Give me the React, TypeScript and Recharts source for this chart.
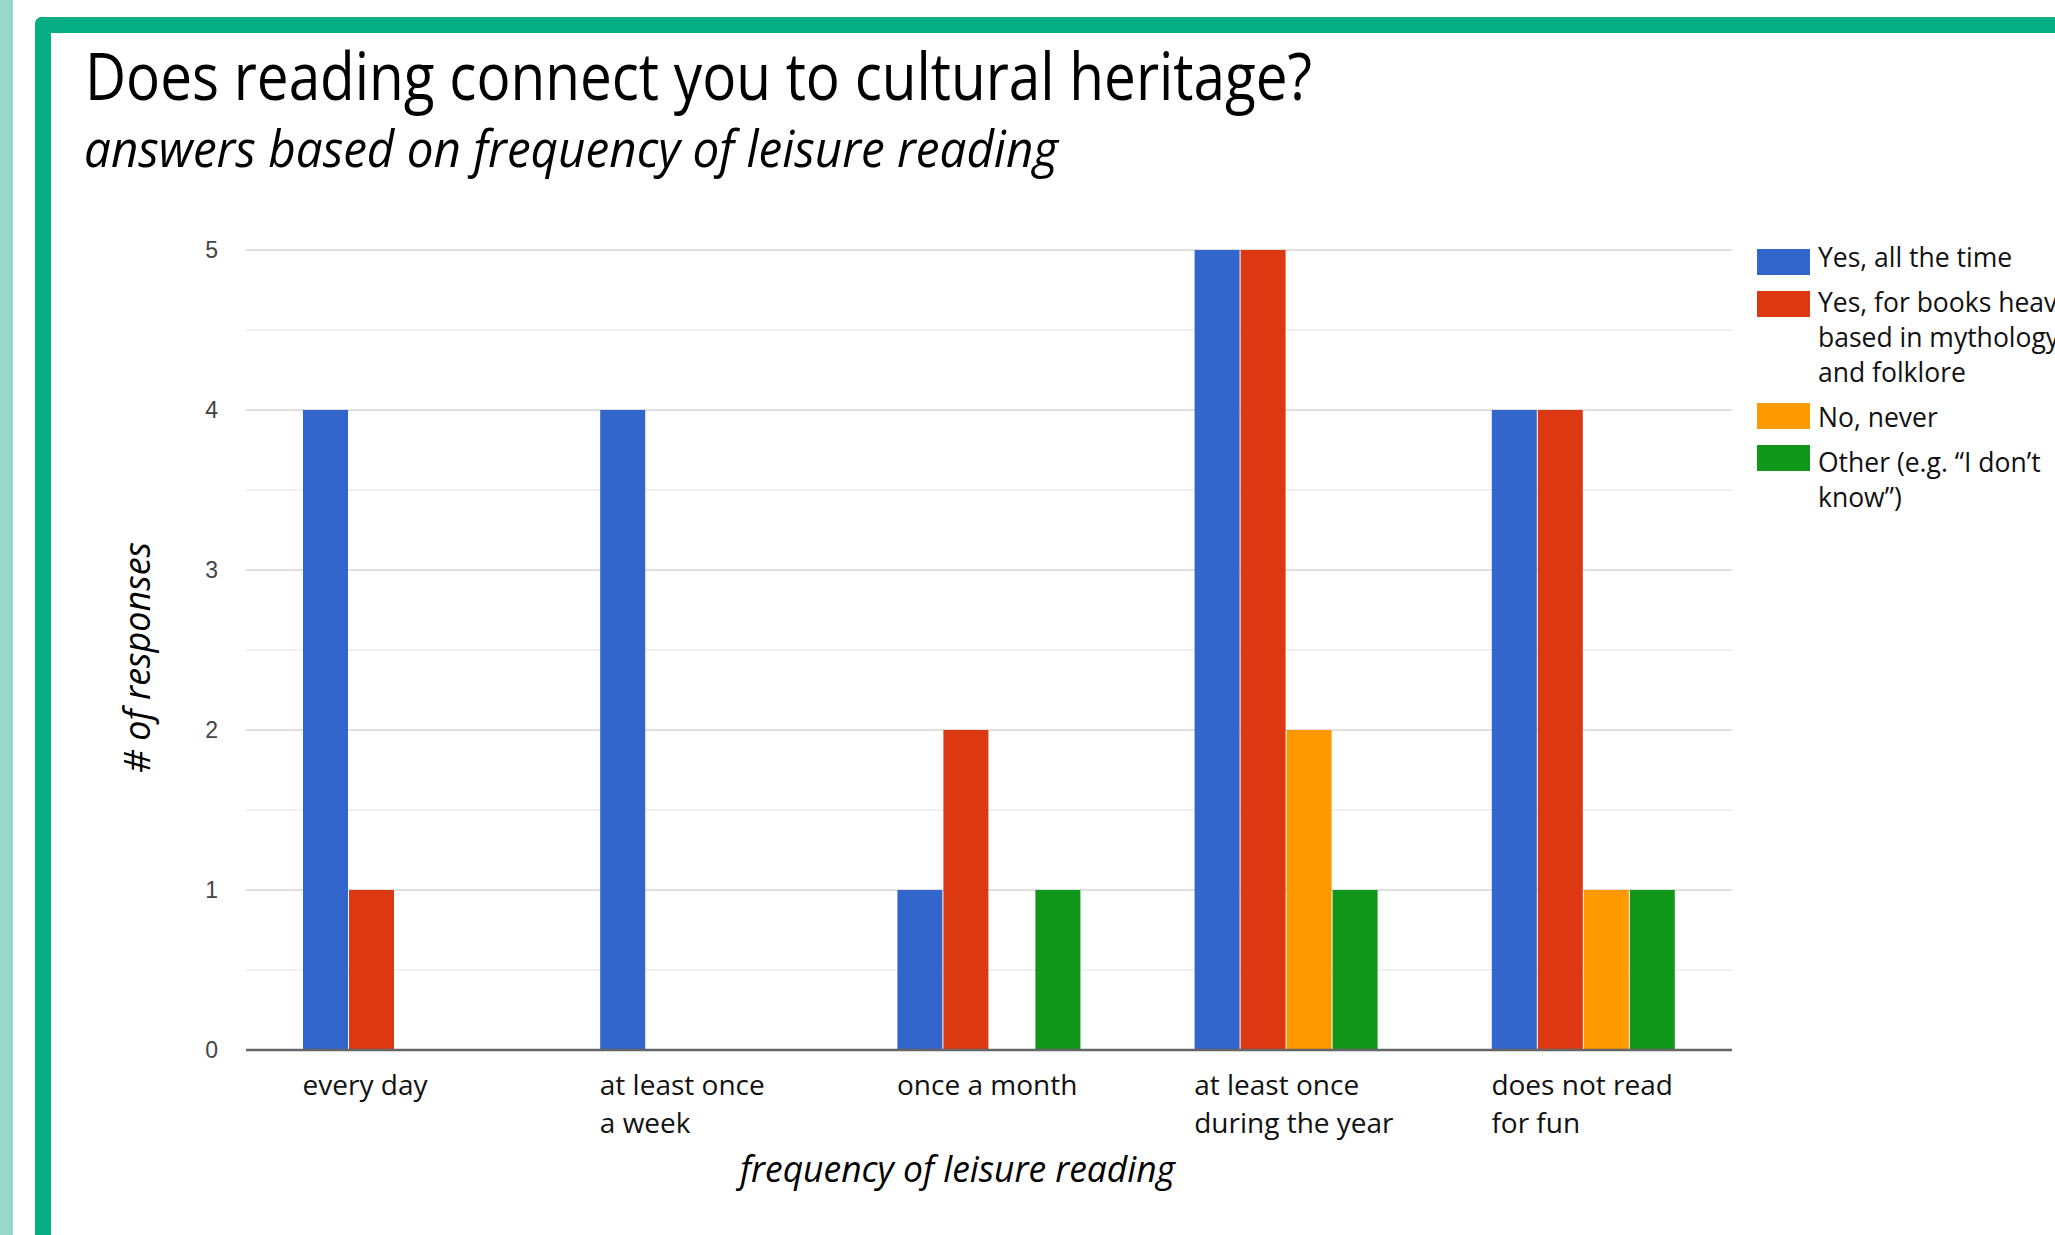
import React from 'react';
import { BarChart, Bar, XAxis, YAxis, CartesianGrid } from 'recharts';

// ---------- data ----------
const CATEGORIES = [
  'every day',
  'at least once a week',
  'once a month',
  'at least once during the year',
  'does not read for fun',
];
const CATEGORY_LINES = [
  ['every day'],
  ['at least once', 'a week'],
  ['once a month'],
  ['at least once', 'during the year'],
  ['does not read', 'for fun'],
];
const YES_ALL_THE_TIME = [4, 4, 1, 5, 4];
const YES_MYTHOLOGY = [1, 0, 2, 5, 4];
const NO_NEVER = [0, 0, 0, 2, 1];
const OTHER = [0, 0, 1, 1, 1];
const Y_TICKS = [0, 1, 2, 3, 4, 5];
const MINOR_TICKS = [0.5, 1.5, 2.5, 3.5, 4.5];

const SERIES_KEYS = ['yesAll', 'yesMyth', 'noNever', 'other'];
const SERIES_VALUES = [YES_ALL_THE_TIME, YES_MYTHOLOGY, NO_NEVER, OTHER];
const LEGEND_LINES = [
  ['Yes, all the time'],
  ['Yes, for books heavily', 'based in mythology', 'and folklore'],
  ['No, never'],
  ['Other (e.g. \u201cI don\u2019t', 'know\u201d)'],
];

const TITLE = 'Does reading connect you to cultural heritage?';
const SUBTITLE = 'answers based on frequency of leisure reading';
const X_TITLE = 'frequency of leisure reading';
const Y_TITLE = '# of responses';

// ---------- style ----------
const COLORS = ['#3366cc', '#dc3912', '#ff9900', '#109618'];
const FONT = "'Open Sans', 'DejaVu Sans', sans-serif";

const data = CATEGORIES.map((c, i) => {
  const row: Record<string, any> = { category: c };
  SERIES_KEYS.forEach((k, s) => {
    row[k] = SERIES_VALUES[s][i];
  });
  return row;
});

const XTick = (props: any) => {
  const { x, y, payload } = props;
  const idx = CATEGORIES.indexOf(payload.value);
  const lines = CATEGORY_LINES[idx] || [String(payload.value)];
  return (
    <g>
      {lines.map((l, i) => (
        <text
          key={i}
          x={x - 92}
          y={y + 45 + i * 38}
          fill="#111"
          fontSize={28}
          fontFamily={FONT}
          textAnchor="start"
        >
          {l}
        </text>
      ))}
    </g>
  );
};

const Legend = () => {
  let swatchTop = 249;
  let baseline = 267;
  const items = LEGEND_LINES.map((lines, i) => {
    const t = swatchTop;
    const b = baseline;
    swatchTop += lines.length * 35 + 7;
    baseline += lines.length * 35 + 10;
    return (
      <g key={i}>
        <rect x={1757} y={t} width={53} height={26} fill={COLORS[i]} />
        {lines.map((l, j) => (
          <text
            key={j}
            x={1818}
            y={b + j * 35}
            fill="#111"
            fontSize={26.5}
            fontFamily={FONT}
          >
            {l}
          </text>
        ))}
      </g>
    );
  });
  return <g>{items}</g>;
};

export default function App() {
  return (
    <div
      style={{
        position: 'fixed',
        left: 0,
        top: 0,
        width: 2055,
        height: 1235,
        overflow: 'hidden',
        background: '#ffffff',
      }}
    >
      <div
        style={{
          position: 'absolute',
          left: 0,
          top: 0,
          width: 13,
          height: 1235,
          background: '#97d7cc',
        }}
      />
      <div
        style={{
          position: 'absolute',
          left: 35,
          top: 17,
          width: 2100,
          height: 1400,
          borderLeft: '16px solid #06ae84',
          borderTop: '16px solid #06ae84',
          borderTopLeftRadius: 7,
          boxSizing: 'border-box',
        }}
      />
      <div style={{ position: 'absolute', left: 0, top: 0 }}>
        <BarChart
          width={2055}
          height={1235}
          data={data}
          margin={{ top: 250, right: 323, bottom: 85, left: 0 }}
          barCategoryGap={57}
          barGap={1}
        >
          <CartesianGrid
            vertical={false}
            horizontalValues={MINOR_TICKS}
            stroke="#ececec"
            strokeWidth={1.5}
          />
          <CartesianGrid vertical={false} stroke="#d6d6d6" strokeWidth={1.5} />
          <XAxis
            dataKey="category"
            height={100}
            interval={0}
            tickLine={false}
            tickSize={0}
            tickMargin={0}
            axisLine={{ stroke: '#666', strokeWidth: 2.5 }}
            tick={(p: any) => <XTick {...p} />}
          />
          <YAxis
            width={246}
            domain={[0, 5]}
            ticks={Y_TICKS}
            interval={0}
            axisLine={false}
            tickLine={false}
            tickSize={0}
            tickMargin={28}
            tick={{ fill: '#444', fontSize: 23, fontFamily: "'Liberation Sans', Arial, sans-serif" }}
          />
          {SERIES_KEYS.map((k, i) => (
            <Bar key={k} dataKey={k} fill={COLORS[i]} isAnimationActive={false} />
          ))}
        </BarChart>
      </div>
      <svg
        width={2055}
        height={1235}
        style={{ position: 'absolute', left: 0, top: 0, pointerEvents: 'none' }}
      >
        <text
          x={85}
          y={100}
          fontSize={66}
          fontFamily={FONT}
          fill="#000"
          textLength={1227}
          lengthAdjust="spacingAndGlyphs"
        >
          {TITLE}
        </text>
        <text
          x={84}
          y={167}
          fontSize={52}
          fontStyle="italic"
          fontFamily={FONT}
          fill="#000"
          textLength={974}
          lengthAdjust="spacingAndGlyphs"
        >
          {SUBTITLE}
        </text>
        <text
          x={740}
          y={1182}
          fontSize={37}
          fontStyle="italic"
          fontFamily={FONT}
          fill="#000"
          textLength={435}
          lengthAdjust="spacingAndGlyphs"
        >
          {X_TITLE}
        </text>
        <text
          transform="translate(150,773) rotate(-90)"
          x={0}
          y={0}
          fontSize={37}
          fontStyle="italic"
          fontFamily={FONT}
          fill="#000"
          textLength={231}
          lengthAdjust="spacingAndGlyphs"
        >
          {Y_TITLE}
        </text>
        <Legend />
      </svg>
    </div>
  );
}
